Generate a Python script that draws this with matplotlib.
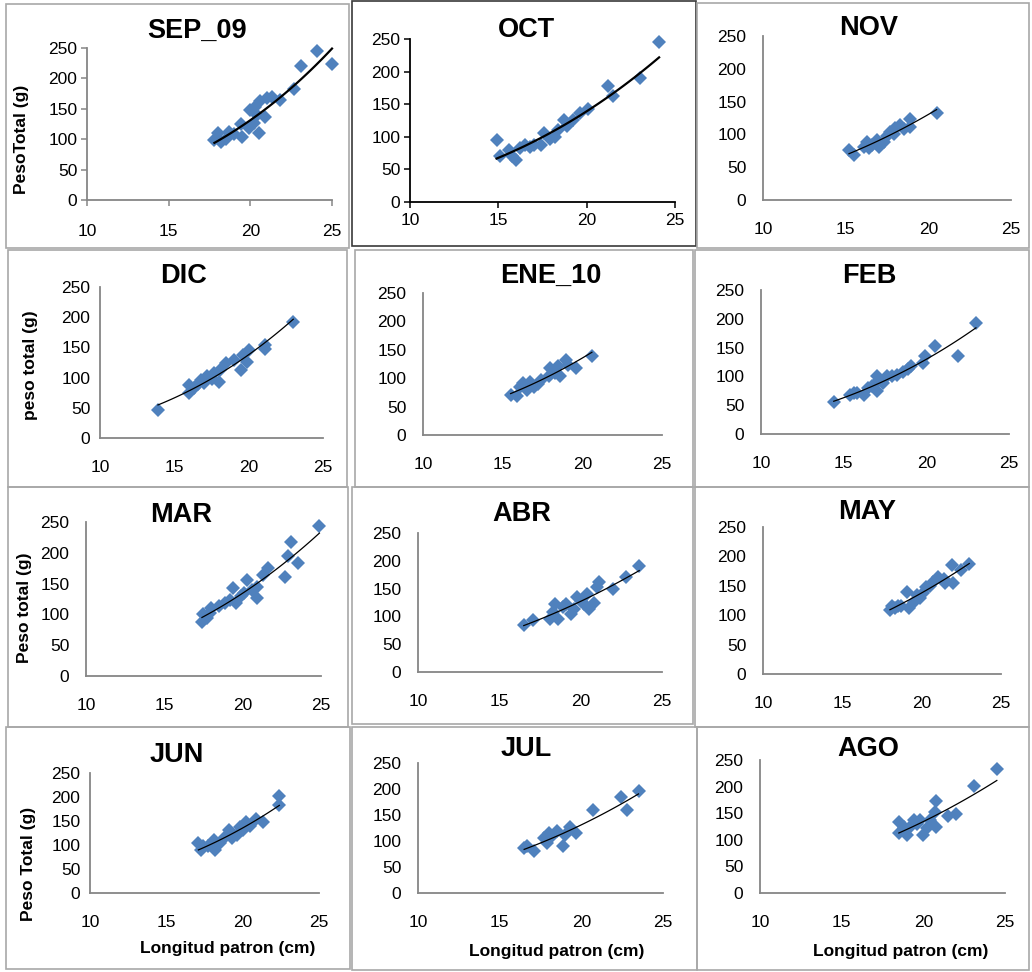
import numpy as np
import matplotlib
matplotlib.use('Agg')
import matplotlib.pyplot as plt
from matplotlib.patches import Rectangle

plt.rcParams['font.family'] = ['Liberation Sans', 'DejaVu Sans']

# longitud patron (cm) / peso total (g) por mes
sep_x = [17.8, 18.0, 18.2, 18.5, 18.7, 19.0, 19.4, 19.5, 19.9, 20.0, 20.2, 20.3, 20.4, 20.5, 20.6, 20.9, 21.0, 21.3, 21.8, 22.7, 23.1, 24.1, 25.0]
sep_y = [98, 110, 95, 100, 112, 108, 125, 103, 118, 148, 126, 153, 140, 110, 163, 137, 167, 170, 164, 183, 220, 245, 223]

oct_x = [14.9, 15.1, 15.6, 15.8, 16.0, 16.2, 16.5, 16.8, 17.0, 17.4, 17.6, 17.9, 18.2, 18.4, 18.7, 18.9, 19.2, 19.6, 20.1, 21.2, 21.5, 23.0, 24.1]
oct_y = [95, 70, 80, 70, 65, 83, 88, 85, 87, 88, 106, 96, 100, 111, 126, 116, 126, 137, 142, 178, 162, 190, 246]

nov_x = [15.2, 15.5, 16.1, 16.3, 16.4, 16.6, 16.9, 17.0, 17.3, 17.5, 17.7, 17.9, 18.0, 18.3, 18.5, 18.9, 18.9, 20.5]
nov_y = [76, 69, 81, 89, 79, 84, 91, 81, 89, 97, 104, 100, 109, 114, 108, 123, 112, 132]

dic_x = [13.9, 16.0, 16.0, 16.3, 16.6, 16.8, 17.0, 17.2, 17.5, 17.7, 18.0, 18.1, 18.5, 19.0, 19.5, 19.6, 19.9, 20.0, 21.1, 21.1, 23.0]
dic_y = [46, 88, 74, 82, 90, 96, 91, 102, 98, 107, 93, 113, 124, 129, 113, 137, 126, 146, 154, 147, 192]

ene_x = [15.5, 15.9, 16.1, 16.3, 16.5, 16.7, 16.95, 17.2, 17.4, 17.9, 18.0, 18.3, 18.5, 18.6, 19.0, 19.1, 19.6, 20.6]
ene_y = [71, 69, 85, 91, 79, 94, 85, 90, 97, 103, 118, 110, 121, 103, 132, 124, 118, 139]

feb_x = [14.4, 15.4, 15.6, 15.8, 16.2, 16.5, 16.7, 17.0, 17.0, 17.0, 17.4, 17.6, 17.9, 18.2, 18.6, 18.9, 19.1, 19.8, 19.9, 20.5, 21.9, 23.0]
feb_y = [56, 68, 72, 71, 68, 80, 83, 100, 74, 90, 88, 100, 100, 103, 108, 112, 118, 123, 136, 153, 136, 192]

mar_x = [17.4, 17.5, 17.7, 17.9, 18.0, 18.5, 18.9, 19.2, 19.4, 19.6, 19.9, 20.1, 20.3, 20.6, 20.9, 20.9, 21.3, 21.6, 22.7, 22.9, 23.1, 23.5, 24.9]
mar_y = [88, 100, 94, 102, 110, 113, 118, 124, 143, 118, 130, 134, 156, 140, 145, 126, 164, 175, 160, 195, 217, 184, 243]

abr_x = [16.5, 17.1, 18.1, 18.3, 18.4, 18.6, 18.9, 19.1, 19.4, 19.6, 19.8, 20.0, 20.2, 20.4, 20.5, 20.8, 21.0, 21.1, 22.0, 22.8, 23.6]
abr_y = [84, 93, 96, 108, 123, 96, 117, 123, 105, 114, 135, 128, 123, 141, 114, 125, 153, 162, 150, 171, 190]

may_x = [18.0, 18.1, 18.3, 18.5, 18.7, 19.1, 19.2, 19.5, 19.7, 19.9, 20.1, 20.3, 20.5, 20.7, 21.0, 21.4, 21.5, 21.9, 22.0, 22.5, 23.0]
may_y = [109, 116, 113, 116, 115, 140, 112, 122, 134, 129, 137, 148, 150, 157, 165, 162, 154, 185, 154, 177, 187]

jun_x = [17.1, 17.3, 17.4, 17.7, 18.1, 18.2, 18.5, 18.8, 19.1, 19.3, 19.6, 19.8, 20.0, 20.2, 20.5, 20.9, 21.3, 22.4, 22.4]
jun_y = [104, 90, 97, 97, 110, 90, 104, 114, 131, 114, 121, 138, 131, 148, 140, 155, 148, 183, 202]

jul_x = [16.5, 16.7, 17.1, 17.7, 17.9, 18.0, 18.2, 18.5, 18.9, 19.0, 19.3, 19.7, 20.7, 22.4, 22.8, 23.5]
jul_y = [87, 90, 80, 106, 96, 115, 109, 119, 91, 112, 127, 115, 159, 185, 159, 197]

ago_x = [18.5, 18.5, 18.8, 19.0, 19.2, 19.4, 19.6, 19.8, 20.0, 20.2, 20.4, 20.7, 20.8, 20.8, 21.5, 22.0, 23.1, 24.5]
ago_y = [134, 112, 125, 109, 125, 137, 130, 137, 109, 122, 137, 153, 172, 125, 145, 149, 202, 234]

titles = ['SEP_09', 'OCT', 'NOV', 'DIC', 'ENE_10', 'FEB', 'MAR', 'ABR', 'MAY', 'JUN', 'JUL', 'AGO']
series = [(sep_x, sep_y), (oct_x, oct_y), (nov_x, nov_y), (dic_x, dic_y), (ene_x, ene_y), (feb_x, feb_y),
          (mar_x, mar_y), (abr_x, abr_y), (may_x, may_y), (jun_x, jun_y), (jul_x, jul_y), (ago_x, ago_y)]
ylabels = {0: 'PesoTotal (g)', 3: 'peso total (g)', 6: 'Peso total (g)', 9: 'Peso Total (g)'}
xlabel = 'Longitud patron (cm)'

W, H = 1032, 972
# layout in pixels: axes (x10, x25, y0, y250), box (x0, y0, x1, y1), title (cx, baseline)
axes_px = [(87, 332, 200, 48), (410, 675, 202, 39), (763, 1011, 200, 36),
           (100, 323, 438, 287), (423, 662, 435, 293), (761, 1009, 434, 290),
           (86, 321, 676, 522), (418, 662, 672, 533), (763, 1001, 674, 527),
           (90, 319, 893, 773), (418, 663, 893, 763), (760, 1005, 893, 760)]
boxes = [(6, 4, 349, 248), (352, 1, 696, 246), (697, 3, 1029, 248),
         (8, 250, 347, 487), (355, 250, 693, 487), (695, 250, 1029, 487),
         (8, 487, 348, 727), (352, 487, 693, 724), (695, 487, 1029, 727),
         (6, 727, 350, 969), (352, 727, 697, 970), (697, 727, 1029, 970)]
title_pos = [(197, 38), (526, 37), (869, 35), (184, 283), (551, 283), (869, 283),
             (181, 522), (522, 521), (867, 519), (177, 762), (526, 756), (868, 756)]
ylabel_pos = {0: (22, 139), 3: (30, 365), 6: (25, 608), 9: (29, 864)}
xlabel_pos = {9: (228, 948), 10: (557, 951), 11: (901, 951)}

fig = plt.figure(figsize=(W / 100, H / 100), dpi=100)

for i, (x0, y0, x1, y1) in enumerate(boxes):
    col = '#3a3a3a' if i == 1 else '#a8a8a8'
    fig.patches.append(Rectangle((x0 / W, 1 - y1 / H), (x1 - x0) / W, (y1 - y0) / H,
                                 transform=fig.transFigure, fill=False, ec=col, lw=1.2))

for i, (xs, ys) in enumerate(series):
    l, r, b, t = axes_px[i]
    ax = fig.add_axes([l / W, 1 - b / H, (r - l) / W, (b - t) / H])
    ax.set_facecolor('none')
    ax.plot(xs, ys, 'D', color='#4F81BD', ms=7.2, mew=0, clip_on=False, zorder=3)

    lx, ly = np.log(xs), np.log(ys)
    k, c = np.polyfit(lx, ly, 1)
    xx = np.linspace(min(xs), max(xs), 60)
    ax.plot(xx, np.exp(c) * xx ** k, color='black', lw=1.6 if i < 2 else 0.9,
            clip_on=False, zorder=4)

    ax.set_xlim(10, 25)
    ax.set_ylim(0, 250)
    ax.set_xticks([10, 15, 20, 25])
    ax.set_yticks([0, 50, 100, 150, 200, 250])
    for s in ['top', 'right']:
        ax.spines[s].set_visible(False)
    axcol = 'black' if i == 1 else '#868686'
    for s in ['left', 'bottom']:
        ax.spines[s].set_color(axcol)
        ax.spines[s].set_linewidth(1.3)

    if i == 0:
        ax.tick_params(axis='both', length=4, width=1.1, color=axcol, labelsize=12.5)
        ax.tick_params(axis='y', pad=3)
        ax.tick_params(axis='x', pad=13)
    elif i == 1:
        ax.tick_params(axis='both', length=4, width=1.1, color=axcol, labelsize=12.5)
        ax.tick_params(axis='y', pad=3)
        ax.tick_params(axis='x', pad=4)
    else:
        ax.tick_params(axis='both', length=0, labelsize=12.5)
        ax.tick_params(axis='y', pad=7 if i in (3, 9) else 12)
        ax.tick_params(axis='x', pad=16)

    cx, by = title_pos[i]
    fig.text(cx / W, 1 - by / H, titles[i], ha='center', va='baseline',
             fontsize=19.5, fontweight='bold')

for i, lab in ylabels.items():
    px, py = ylabel_pos[i]
    fig.text(px / W, 1 - py / H, lab, rotation=90, ha='center', va='center',
             fontsize=12.5, fontweight='bold')

for i, (px, py) in xlabel_pos.items():
    fig.text(px / W, 1 - py / H, xlabel, ha='center', va='center',
             fontsize=12.5, fontweight='bold')

fig.savefig('out.png', dpi=100)
